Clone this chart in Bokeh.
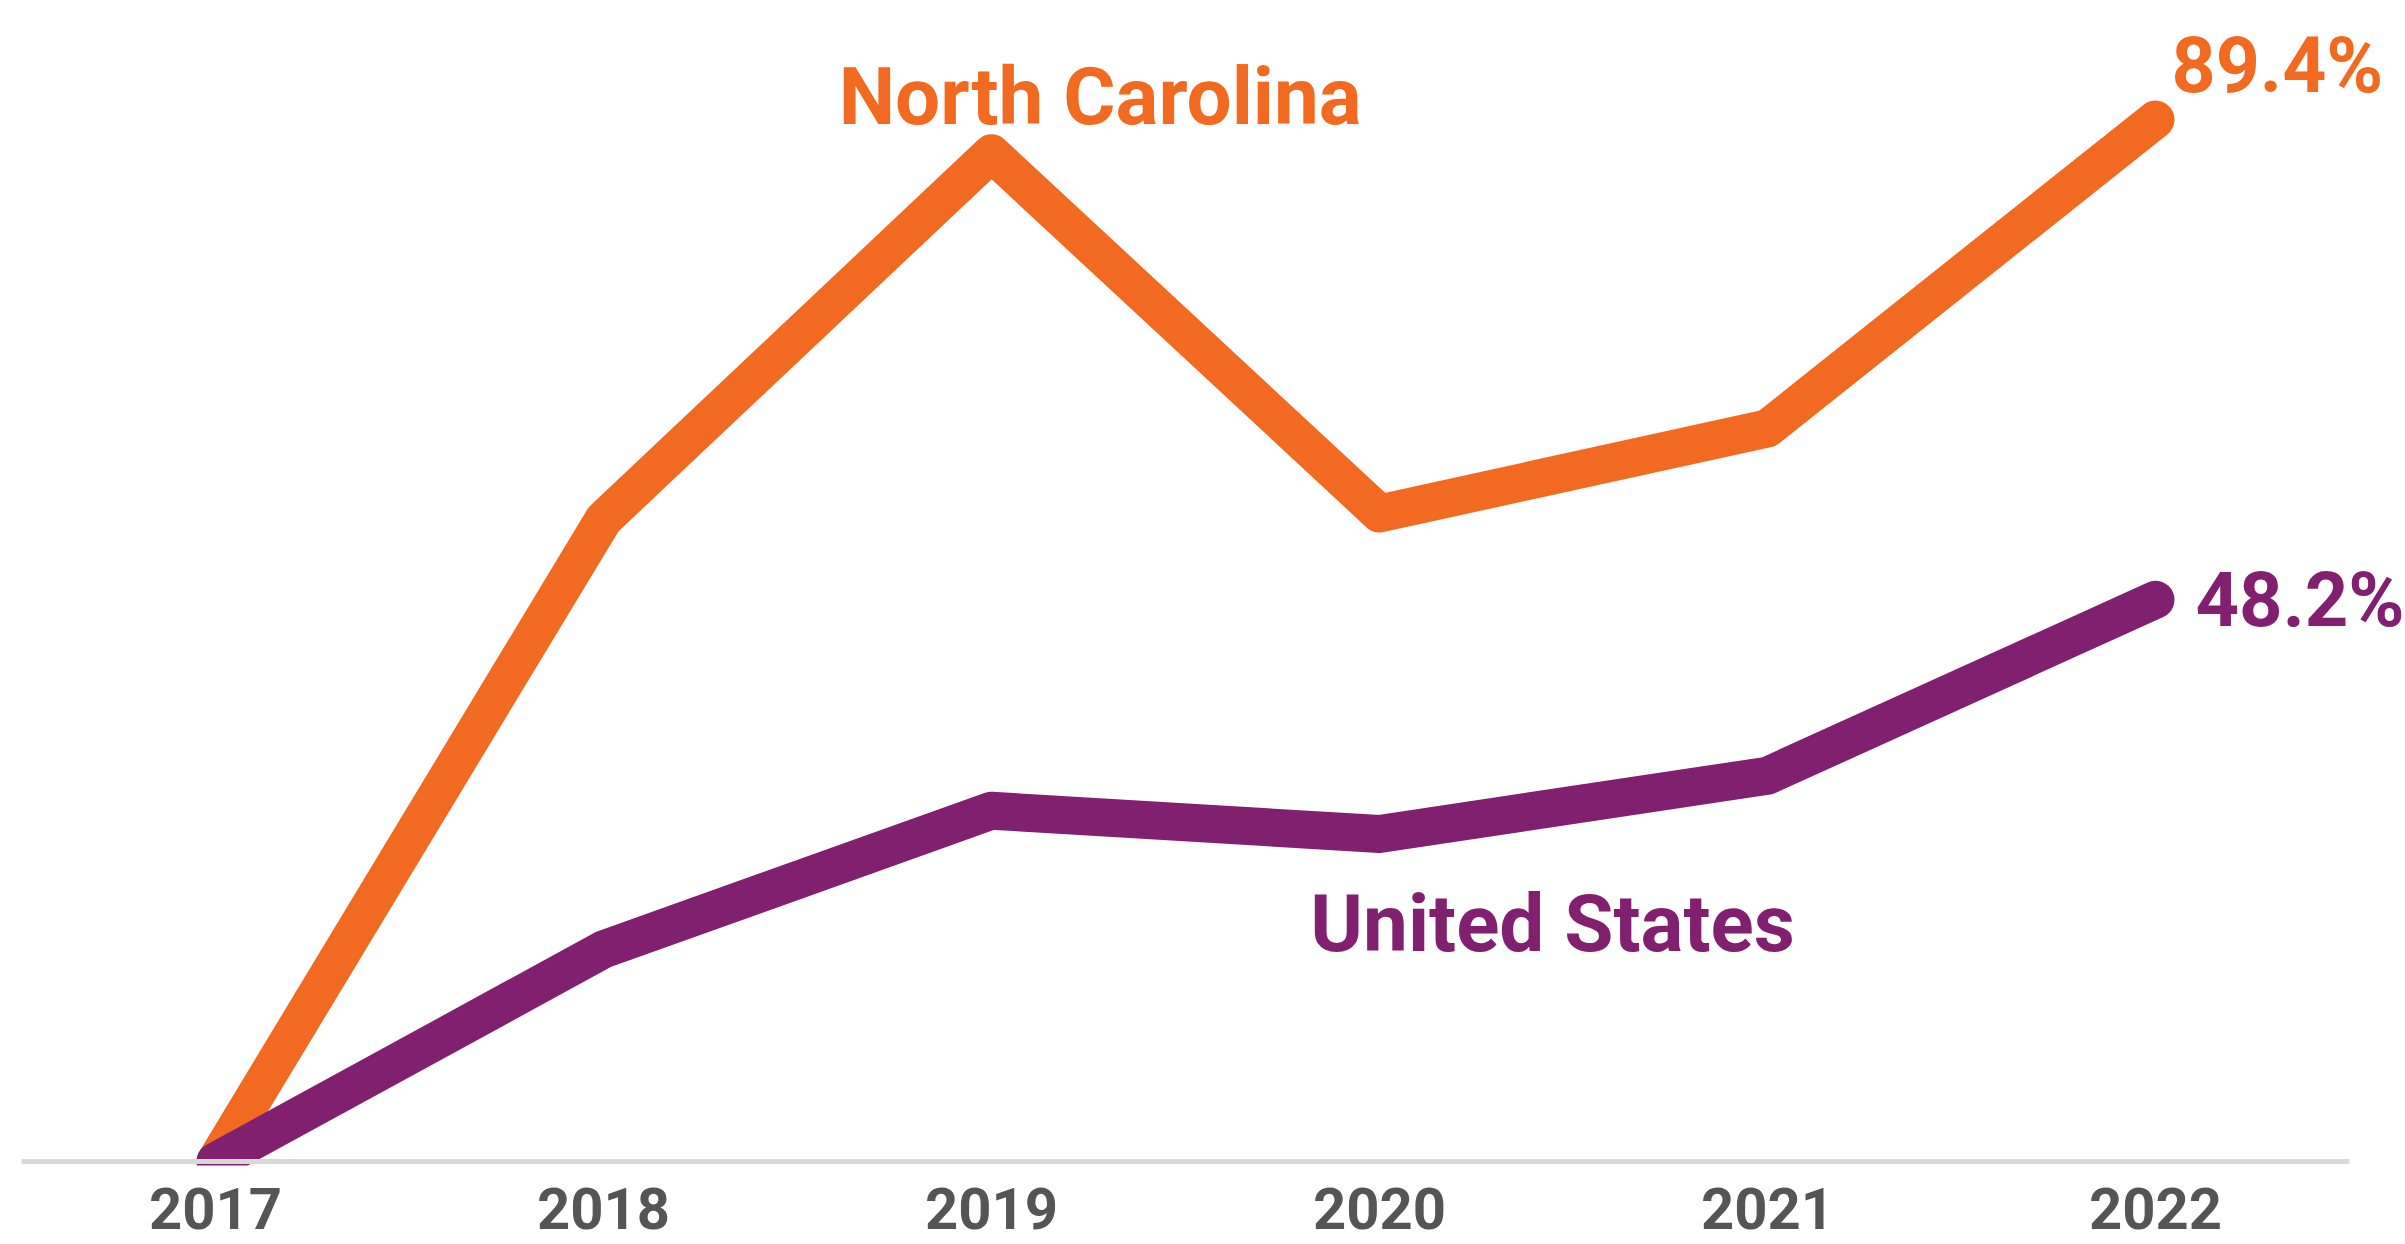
from bokeh.plotting import figure
from bokeh.models import ColumnDataSource, LabelSet, Label, Range1d
from bokeh.embed import file_html
from bokeh.resources import INLINE
from bokeh.core.properties import value

# ---- data ----
years = [2017, 2018, 2019, 2020, 2021, 2022]
year_labels = ["2017", "2018", "2019", "2020", "2021", "2022"]
north_carolina = [0.0, 55.1, 86.5, 55.6, 62.9, 89.4]
united_states = [0.0, 18.2, 30.1, 28.1, 33.1, 48.2]
series_names = ["North Carolina", "United States"]
end_labels = ["89.4%", "48.2%"]

ORANGE = "#F26A21"
PURPLE = "#80206E"
GREY_TXT = "#555555"
FONT = "Roboto"

W, H = 2405, 1244
p = figure(width=W, height=H, output_backend="svg", toolbar_location=None, title=None,
           x_axis_location=None, y_axis_location=None,
           x_range=Range1d(2016.4459, 2022.6443), y_range=Range1d(-7.121, 99.614),
           min_border_left=0, min_border_right=0, min_border_top=0, min_border_bottom=0)
p.outline_line_color = None
p.xgrid.visible = False
p.ygrid.visible = False
p.background_fill_color = "white"
p.border_fill_color = "white"

src = ColumnDataSource(dict(x=years, nc=north_carolina, us=united_states, lab=year_labels,
                            ly=[-5.8] * len(years)))
p.line("x", "nc", source=src, line_color=ORANGE, line_width=38,
       line_join="round", line_cap="round")
p.line("x", "us", source=src, line_color=PURPLE, line_width=38,
       line_join="round", line_cap="round")

# plot floor: everything below the baseline is blank
p.quad(left=[years[0] - 0.7], right=[years[-1] + 0.7], bottom=[-2.2], top=[-0.35],
       fill_color="white", line_color=None)
# baseline
p.segment(x0=[years[0] - 0.5], y0=[0], x1=[years[-1] + 0.5], y1=[0],
          line_color="#d9d9d9", line_width=5)

# tick labels
ticks = LabelSet(x="x", y="ly", text="lab", source=src, text_align="center",
                 text_baseline="alphabetic", text_font=value(FONT),
                 text_font_style="bold", text_font_size="58px", text_color=GREY_TXT)
p.add_layout(ticks)

# series names
p.add_layout(Label(x=2019.28, y=89.06, y_offset=27, text=series_names[0], text_align="center",
                   text_baseline="alphabetic", text_font=FONT, text_font_style="bold",
                   text_font_size="80px", text_color=ORANGE))
p.add_layout(Label(x=2020.446, y=18.02, y_offset=27, text=series_names[1], text_align="center",
                   text_baseline="alphabetic", text_font=FONT, text_font_style="bold",
                   text_font_size="80px", text_color=PURPLE))

# end values
p.add_layout(Label(x=years[-1], y=north_carolina[-1], x_offset=16, y_offset=54,
                   text=end_labels[0], text_align="left", text_baseline="middle",
                   text_font=FONT, text_font_style="bold",
                   text_font_size="77px", text_color=ORANGE))
p.add_layout(Label(x=years[-1], y=united_states[-1], x_offset=40, y_offset=0,
                   text=end_labels[1], text_align="left", text_baseline="middle",
                   text_font=FONT, text_font_style="bold",
                   text_font_size="76px", text_color=PURPLE))

open("out.html", "w").write(file_html(p, INLINE))
